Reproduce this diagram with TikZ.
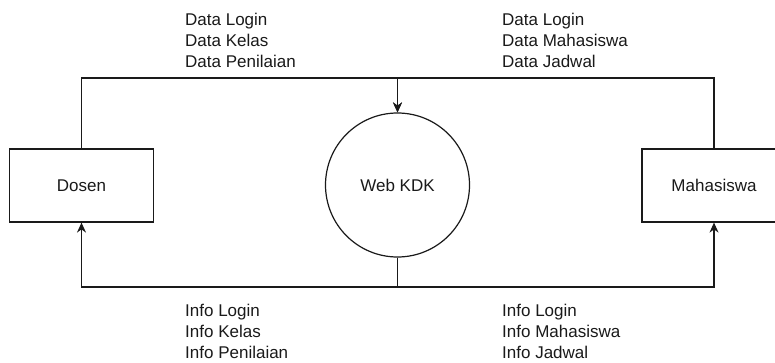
\documentclass[tikz,border=0pt]{standalone}
\usepackage{fontspec}
\setmainfont{Liberation Sans}
\usepackage{tikz}
\usetikzlibrary{arrows.meta}
\definecolor{ink}{HTML}{1A1A1A}
\tikzset{
  entity/.style={draw=ink, line width=1.2pt, fill=white, minimum width=144pt, minimum height=73pt, inner sep=0pt},
  process/.style={draw=ink, line width=1.2pt, circle, fill=white, minimum size=144pt, inner sep=0pt},
  flow/.style={draw=ink, line width=1.2pt, -{Stealth[length=10pt,width=9pt]}},
  label/.style={text=ink, font=\fontsize{17}{21}\selectfont},
  flowtext/.style={label, align=left, anchor=north west, inner sep=0pt}
}
\begin{document}
\begin{tikzpicture}[x=1pt, y=-1pt]
  \clip (0,0) rectangle (775,363);
  \fill[white] (0,0) rectangle (775,363);
  \coordinate (topbus) at (0,78);
  \coordinate (botbus) at (0,287);
  \node[entity, label] (dosen) at (81.5,185.5) {Dosen};
  \node[process, label] (web) at (397.5,185) {Web KDK};
  \node[entity, label] (mhs) at (714,185.5) {Mahasiswa};
  \draw[flow] (dosen.north) -- (dosen.north |- topbus) -| (web.north);
  \draw[flow] (mhs.north) -- (mhs.north |- topbus) -| (web.north);
  \draw[flow] (web.south) -- (web.south |- botbus) -| (dosen.south);
  \draw[flow] (web.south) -- (web.south |- botbus) -| (mhs.south);
  \node[flowtext] (indosen) at (185,13) {Data Login\\Data Kelas\\Data Penilaian};
  \node[flowtext] (inmhs) at (502,13) {Data Login\\Data Mahasiswa\\Data Jadwal};
  \node[flowtext] (outdosen) at (185,304) {Info Login\\Info Kelas\\Info Penilaian};
  \node[flowtext] (outmhs) at (502,304) {Info Login\\Info Mahasiswa\\Info Jadwal};
\end{tikzpicture}
\end{document}
